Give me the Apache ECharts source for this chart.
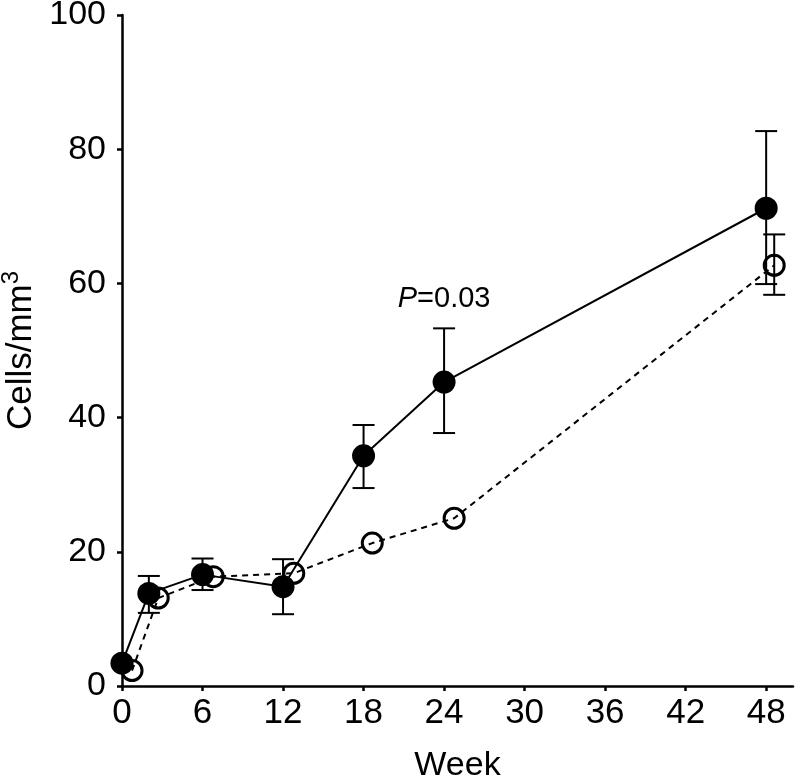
<!DOCTYPE html>
<html>
<head>
<meta charset="utf-8">
<script src="https://cdn.jsdelivr.net/npm/echarts@6/dist/echarts.min.js"></script>
<style>
  html, body { margin: 0; padding: 0; background: #fff; }
  #chart { width: 795px; height: 783px; }
</style>
</head>
<body>
<div id="chart"></div>
<script>
// filled group (solid line)
const weeksFilled = [0, 2, 6, 12, 18, 24, 48];
const meanFilled = [3.4, 13.8, 16.6, 14.8, 34.3, 45.3, 71.2];
const lowFilled = [null, 10.9, 14.3, 10.7, 29.5, 37.7, 59.9];
const highFilled = [null, 16.4, 19.0, 18.9, 38.9, 53.3, 82.7];

// open group (dashed line)
const weeksOpen = [0.75, 2.7, 6.8, 12.8, 18.65, 24.75, 48.6];
const meanOpen = [2.3, 13.1, 16.3, 16.8, 21.3, 25.0, 62.7];
const lowOpen = [null, null, null, null, null, null, 58.3];
const highOpen = [null, null, null, null, null, null, 67.3];

const xTicks = [0, 6, 12, 18, 24, 30, 36, 42, 48];
const annotation = { week: 24, value: 57.7, text: "{i|P}=0.03" };

const FONT = "Liberation Sans, Arial, sans-serif";

function pairs(xs, ys) {
  return xs.map((x, i) => [x, ys[i]]);
}

function errRows(xs, lo, hi) {
  const rows = [];
  xs.forEach((x, i) => {
    if (lo[i] != null && hi[i] != null) rows.push([x, lo[i], hi[i]]);
  });
  return rows;
}

// whisker with caps
function renderErr(params, api) {
  const x = api.value(0);
  const top = api.coord([x, api.value(2)]);
  const bot = api.coord([x, api.value(1)]);
  const half = 11;
  const style = { stroke: "#000", lineWidth: 2 };
  return {
    type: "group",
    children: [
      { type: "line", shape: { x1: top[0], y1: top[1], x2: bot[0], y2: bot[1] }, style },
      { type: "line", shape: { x1: top[0] - half, y1: top[1], x2: top[0] + half, y2: top[1] }, style },
      { type: "line", shape: { x1: bot[0] - half, y1: bot[1], x2: bot[0] + half, y2: bot[1] }, style }
    ]
  };
}

const chart = echarts.init(document.getElementById("chart"));

chart.setOption({
  backgroundColor: "#fff",
  animation: false,
  grid: { left: 122, right: 2, top: 15, bottom: 97, containLabel: false, outerBoundsMode: "none" },
  xAxis: {
    type: "value",
    min: 0,
    max: 50,
    interval: 6,
    name: "Week",
    nameLocation: "middle",
    nameGap: 63,
    nameTextStyle: { fontFamily: FONT, fontSize: 34, color: "#000" },
    axisLine: { lineStyle: { color: "#000", width: 2.5 } },
    axisTick: { show: true, length: 5, lineStyle: { color: "#000", width: 2.5 }, customValues: xTicks },
    axisLabel: { fontFamily: FONT, fontSize: 35, color: "#000", margin: 10, customValues: xTicks },
    splitLine: { show: false }
  },
  yAxis: {
    type: "value",
    min: 0,
    max: 100,
    interval: 20,
    name: "{a|Cells/mm}{s|3}",
    nameLocation: "middle",
    nameGap: 76,
    nameTextStyle: {
      fontFamily: FONT,
      color: "#000",
      rich: {
        a: { fontFamily: FONT, fontSize: 35, color: "#000" },
        s: { fontFamily: FONT, fontSize: 24, color: "#000", verticalAlign: "top", padding: [0, 0, 18, 0] }
      }
    },
    axisLine: { show: true, lineStyle: { color: "#000", width: 2.5 } },
    axisTick: { show: true, length: 5, lineStyle: { color: "#000", width: 2.5 } },
    axisLabel: { fontFamily: FONT, fontSize: 34, color: "#000", margin: 16 },
    splitLine: { show: false }
  },
  series: [
    {
      type: "custom",
      renderItem: renderErr,
      data: errRows(weeksOpen, lowOpen, highOpen),
      z: 1
    },
    {
      type: "custom",
      renderItem: renderErr,
      data: errRows(weeksFilled, lowFilled, highFilled),
      z: 1
    },
    {
      type: "line",
      data: pairs(weeksOpen, meanOpen),
      symbol: "circle",
      symbolSize: 20,
      lineStyle: { color: "#000", width: 2, type: [6, 5] },
      itemStyle: { color: "rgba(0,0,0,0)", borderColor: "#000", borderWidth: 3 },
      z: 2
    },
    {
      type: "line",
      data: pairs(weeksFilled, meanFilled),
      symbol: "circle",
      symbolSize: 23,
      lineStyle: { color: "#000", width: 2 },
      itemStyle: { color: "#000" },
      z: 3,
      markPoint: {
        symbol: "circle",
        symbolSize: 0,
        data: [{ coord: [annotation.week, annotation.value] }],
        label: {
          show: true,
          position: "inside",
          formatter: annotation.text,
          fontFamily: FONT,
          fontSize: 29,
          color: "#000",
          rich: {
            i: { fontFamily: FONT, fontSize: 29, fontStyle: "italic", color: "#000" }
          }
        }
      }
    }
  ]
});
</script>
</body>
</html>
